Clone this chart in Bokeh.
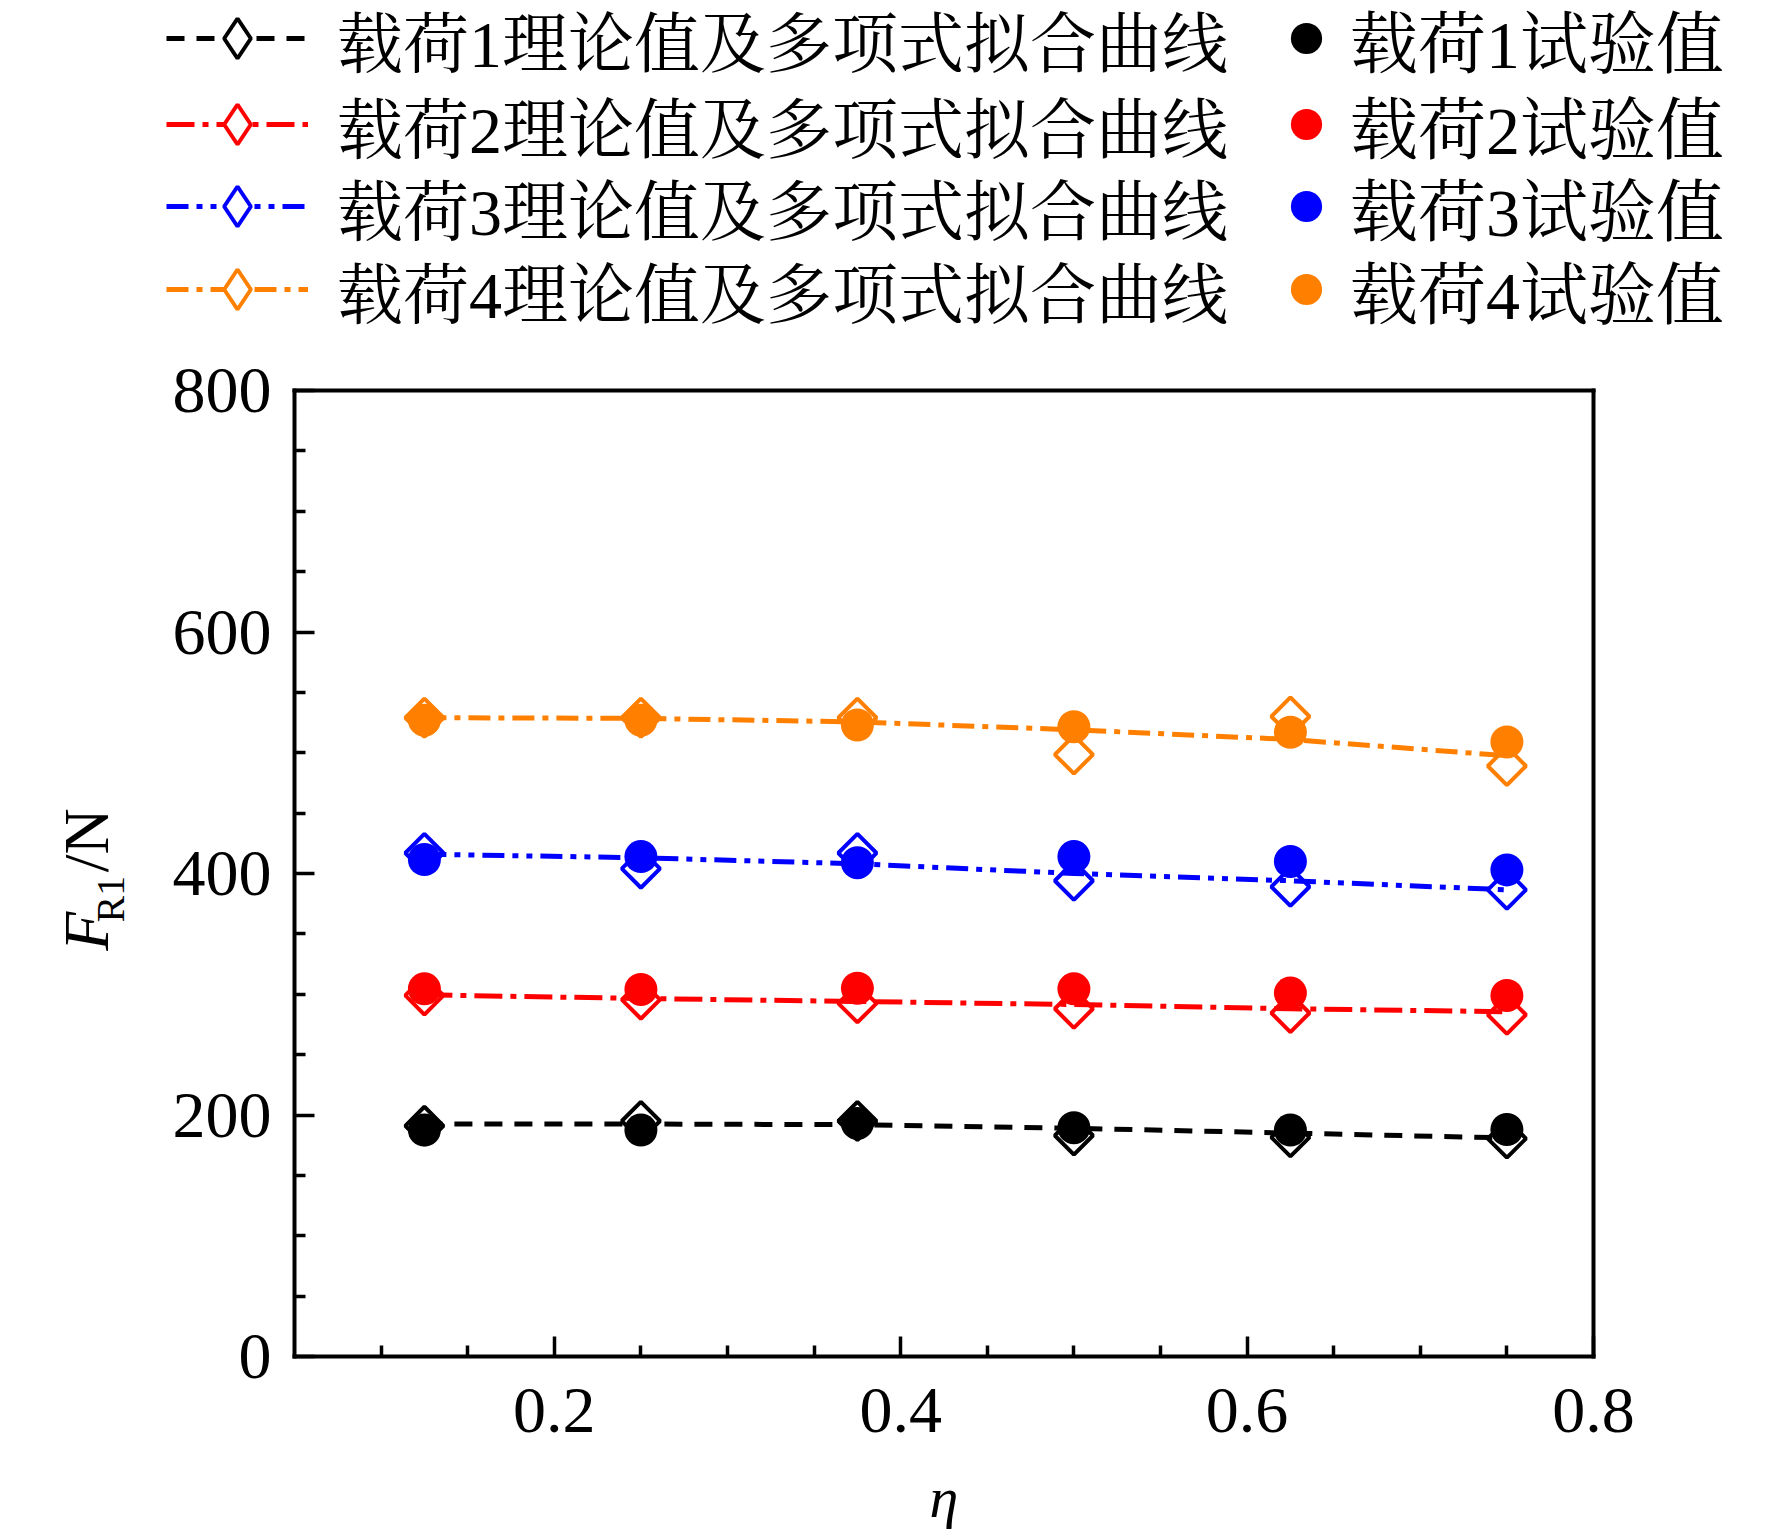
import numpy as np
from bokeh.plotting import figure
from bokeh.models import Range1d, FixedTicker, Label, Legend, LegendItem, LinearAxis
from bokeh.embed import file_html
from bokeh.resources import INLINE

# ---------------- data ----------------
eta = [0.125, 0.25, 0.375, 0.5, 0.625, 0.75]

theory1 = [191, 195, 195, 183, 181.5, 180.5]
theory2 = [299, 295.5, 292.5, 288, 284.5, 283]
theory3 = [417, 404, 417, 394, 389, 386.5]
theory4 = [529, 529, 529, 498.5, 530, 489]

fit1 = [192.5, 192.5, 192, 189, 185, 181]
fit2 = [299.5, 296.5, 294, 291.5, 288, 285.5]
fit3 = [416, 413, 408, 400, 394, 386.5]
fit4 = [529, 528.5, 525.5, 519, 511, 497.5]

test1 = [187.5, 187.5, 193, 189.5, 187.5, 188]
test2 = [304.5, 304, 305, 304.5, 301, 299]
test3 = [411.5, 414, 409, 414, 410, 403]
test4 = [527, 527, 523, 521.5, 517, 509]

theory_labels = ["载荷1理论值及多项式拟合曲线", "载荷2理论值及多项式拟合曲线",
                 "载荷3理论值及多项式拟合曲线", "载荷4理论值及多项式拟合曲线"]
test_labels = ["载荷1试验值", "载荷2试验值", "载荷3试验值", "载荷4试验值"]
x_ticks = [0.2, 0.4, 0.6, 0.8]
x_minor = [0.1, 0.15, 0.25, 0.3, 0.35, 0.45, 0.5, 0.55, 0.65, 0.7, 0.75]
y_ticks = [0, 200, 400, 600, 800]
y_minor = [50, 100, 150, 250, 300, 350, 450, 500, 550, 650, 700, 750]
x_lim = (0.05, 0.8)
y_lim = (0, 800)

colors = ["#000000", "#FF0000", "#0000FF", "#FF8000"]
dashes = ["18 12", "28 8 6 8", "22 8 6 8 6 8", "22 8 6 8"]

SERIF = "'Liberation Serif'"
CJK = "'Liberation Serif', 'Noto Serif CJK SC', 'Noto Sans CJK SC'"

W, H = 1764, 1530
# plot box in pixels: x 294..1593, y 390..1356 (from top)
PX_X = 1299 / (x_lim[1] - x_lim[0])
PX_Y = 966 / (y_lim[1] - y_lim[0])
x_range = Range1d(x_lim[0] - 294 / PX_X, x_lim[1] + (W - 1593) / PX_X)
y_range = Range1d(y_lim[0] - (H - 1356) / PX_Y, y_lim[1] + 390 / PX_Y)

p = figure(width=W, height=H, output_backend="svg", toolbar_location=None,
           x_range=x_range, y_range=y_range, min_border=0,
           x_axis_location=None, y_axis_location=None)
p.grid.visible = False
p.background_fill_color = "white"
p.border_fill_color = "white"
p.outline_line_color = None


def make_axis(loc, bounds, ticks, minor, labels):
    ax = LinearAxis(fixed_location=loc, bounds=bounds,
                    ticker=FixedTicker(ticks=ticks, minor_ticks=minor),
                    axis_line_width=4, axis_line_cap="square",
                    major_tick_in=20, major_tick_out=0,
                    minor_tick_in=11, minor_tick_out=0,
                    major_tick_line_width=3.5, minor_tick_line_width=3.5,
                    major_label_text_font=SERIF,
                    major_label_text_font_size="66px",
                    major_label_text_color="black")
    if not labels:
        ax.major_label_text_alpha = 0
    return ax


xaxis = make_axis(y_lim[0], x_lim, x_ticks, x_minor, True)
xaxis.major_label_standoff = 32
yaxis = make_axis(x_lim[0], y_lim, y_ticks, y_minor, True)
yaxis.major_label_standoff = 23
top = make_axis(y_lim[1], x_lim, [], [], False)
right = make_axis(x_lim[1], y_lim, [], [], False)
p.add_layout(xaxis, "below")
p.add_layout(yaxis, "left")
p.add_layout(top, "above")
p.add_layout(right, "right")

theories = [theory1, theory2, theory3, theory4]
fits = [fit1, fit2, fit3, fit4]
tests = [test1, test2, test3, test4]

# legend row centres (pixels from top of picture)
row_c = [38, 124, 206, 289]
ITEM_H = 100

common = dict(padding=0, margin=0, border_line_alpha=0, background_fill_alpha=0,
              label_text_color="black", orientation="vertical",
              label_text_font=CJK, glyph_height=ITEM_H, label_height=ITEM_H,
              spacing=0)

for i in range(4):
    # legend key only (legend keys ignore marker angle): hidden upright diamond
    key = p.scatter(eta, theories[i], marker="diamond", line_color=colors[i],
                    line_width=4, fill_color="white", visible=False)
    d = p.scatter(eta, theories[i], marker="square", angle=np.pi / 4, size=27,
                  line_color=colors[i], line_width=4, fill_color="white")
    ln = p.line(eta, fits[i], line_color=colors[i], line_width=5,
                line_dash=dashes[i])
    c = p.scatter(eta, tests[i], marker="circle", size=33,
                  line_color=colors[i], fill_color=colors[i], line_width=0)
    vy = H - (row_c[i] + ITEM_H // 2)
    leg_a = Legend(items=[LegendItem(label=theory_labels[i], renderers=[ln, key])],
                   location=(166, vy), glyph_width=142, label_standoff=29,
                   label_text_font_size="66px", **common)
    leg_b = Legend(items=[LegendItem(label=test_labels[i], renderers=[c])],
                   location=(1267, vy), glyph_width=78, label_standoff=5,
                   label_text_font_size="68px", **common)
    p.add_layout(leg_a)
    p.add_layout(leg_b)

# y axis label  F_R1/N
lab = dict(angle=np.pi / 2, text_font=SERIF, text_color="black",
           text_align="left", text_baseline="middle")
p.add_layout(Label(x=-0.0701, y=336.0, text="F", text_font_style="italic",
                   text_font_size="64px", **lab))
p.add_layout(Label(x=-0.0562, y=359.5, text="R1", text_font_size="40px", **lab))
p.add_layout(Label(x=-0.0701, y=401.0, text="/N", text_font_size="64px", **lab))
# x axis label
p.add_layout(Label(x=0.425, y=-117.0, text="η", text_font=SERIF, text_color="black",
                   text_font_style="italic", text_font_size="58px",
                   text_align="center", text_baseline="alphabetic"))

open("out.html", "w").write(file_html(p, INLINE))
